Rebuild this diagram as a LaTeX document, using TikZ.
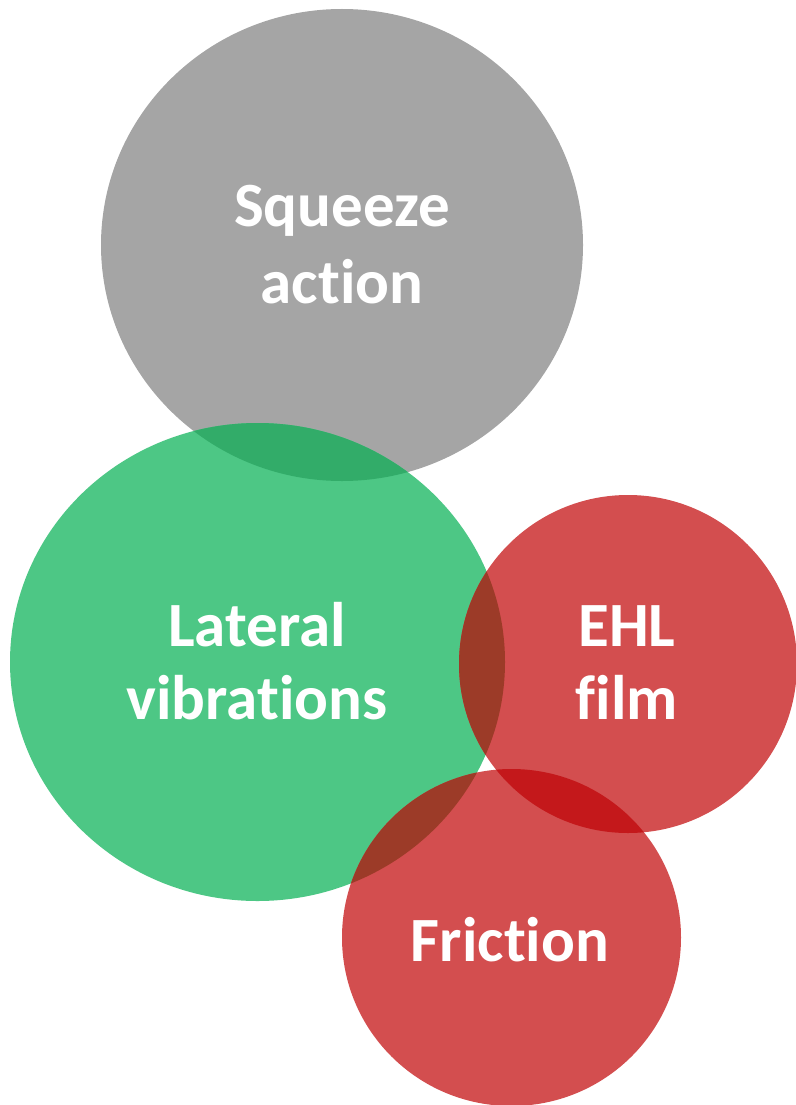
\documentclass[tikz,border=0pt]{standalone}
\usepackage{fontspec}
\setmainfont[Ligatures={NoCommon}]{Carlito}
\definecolor{cgray}{HTML}{A5A5A5}
\definecolor{cgreen}{HTML}{4DC785}
\definecolor{cred}{HTML}{D34E4F}
\definecolor{cdkgreen}{HTML}{32AC69}
\definecolor{cbrown}{HTML}{9C3B28}
\definecolor{cdeepred}{HTML}{C4181B}
\tikzset{
  lbl/.style={text=white, align=center, inner sep=0pt, font=\fontsize{63}{73}\selectfont\bfseries},
}
\begin{document}
\begin{tikzpicture}[x=1pt,y=-1pt]
\useasboundingbox (0,0) rectangle (795,1105);
\def\GrayC{(342,245) ellipse [x radius=241, y radius=236]}
\def\GreenC{(257.5,662) ellipse [x radius=247.5, y radius=239]}
\def\EhlC{(628,664) ellipse [x radius=169, y radius=169]}
\def\FricC{(511.5,937.5) ellipse [x radius=169.5, y radius=168.5]}
% base discs
\fill[cgray] \GrayC;
\fill[cgreen] \GreenC;
\fill[cred] \EhlC;
\fill[cred] \FricC;
% overlaps
\begin{scope}
  \clip \GreenC;
  \fill[cdkgreen] \GrayC;
  \fill[cbrown] \EhlC;
  \fill[cbrown] \FricC;
\end{scope}
\begin{scope}
  \clip \EhlC;
  \fill[cdeepred] \FricC;
\end{scope}
% labels
\node[lbl, font=\fontsize{63}{77}\selectfont\bfseries] (squeeze) at (342,245) {Squeeze\\action};
\node[lbl] (lateral) at (257,661) {Lateral\\vibrations};
\node[lbl] (ehl) at (627,663) {EHL\\film};
\node[lbl] (friction) at (510,940) {Friction};
\end{tikzpicture}
\end{document}
